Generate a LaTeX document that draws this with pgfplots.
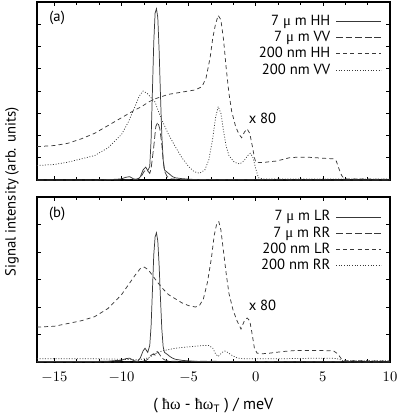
\documentclass[border=0pt]{standalone}
\usepackage{fontspec}
\setmainfont{PT Sans}
\newfontfamily\symf{Liberation Serif}
\usepackage{pgfplots}
\pgfplotsset{compat=1.18}

% 1 px of the reference = 0.75pt
\pgfplotsset{
  panel/.style={
    scale only axis, width=264.75pt,
    xmin=-16.3, xmax=10, ymin=0,
    xtick={-15,-10,...,10}, minor x tick num=2,
    yticklabels={},
    tick align=inside, major tick length=3pt, minor tick length=2.2pt,
    axis line style={line width=0.9pt},
    tick style={line width=0.5pt, black},
    every axis plot/.append style={line width=0.55pt, black!78},
    legend plot pos=right, legend cell align=right,
    legend image code/.code={\draw[##1] (0pt,0pt) -- (34pt,0pt);},
    legend style={draw=none, fill=none, at={(1,1)}, anchor=north east,
      xshift=-3pt, yshift=-6pt, row sep=-1.4pt,
      nodes={inner xsep=4pt, inner ysep=2pt}},
  },
  sld/.style={solid},
  lng/.style={dash pattern=on 5pt off 2.2pt},
  shrt/.style={dash pattern=on 3pt off 2.4pt},
  dts/.style={dash pattern=on 0.7pt off 1.3pt},
}

\begin{document}
\fontsize{11}{13.2}\selectfont
\begin{tikzpicture}
\path[use as bounding box] (0,0) rectangle (299.25pt,-313.5pt);

% ---------------- (a) ----------------
\begin{axis}[panel, at={(27.75pt,-135pt)}, anchor=south west,
  height=133.5pt, ymax=8, ytick={0,1,...,8}, xticklabels={}]

\addplot[sld] coordinates {(-16.3,0) (-12,0) (-11,0.02) (-10.5,0.03) (-10,0.05)
  (-9.7,0.12) (-9.4,0.15) (-9.1,0.05) (-8.8,0.02) (-8.6,0.15) (-8.4,0.45)
  (-8.2,0.58) (-8.05,0.42) (-7.9,0.6) (-7.8,1.8) (-7.7,4.0) (-7.6,6.2)
  (-7.5,7.5) (-7.4,7.7) (-7.3,7.3) (-7.2,5.8) (-7.1,3.8) (-7.0,2.0)
  (-6.9,0.9) (-6.8,0.45) (-6.6,0.35) (-6.4,0.25) (-6.2,0.15) (-6.0,0.1)
  (-5.5,0.06) (-5,0.04) (-4.5,0.02) (-4,0.01) (10,0)};
\addlegendentry{7 {\symf μ} m HH}

\addplot[lng] coordinates {(-16.3,0) (-10,0) (-9,0.02) (-8.6,0.1)
  (-8.3,0.4) (-8.1,0.45) (-7.9,0.3) (-7.8,0.5) (-7.6,1.5) (-7.45,2.4)
  (-7.3,2.6) (-7.15,2.3) (-7.0,1.6) (-6.9,0.9) (-6.8,0.4) (-6.6,0.15)
  (-6.3,0.05) (-5.5,0.02) (10,0)};
\addlegendentry{7 {\symf μ} m VV}

\addplot[shrt] coordinates {(-16.3,1.5) (-15,1.55) (-14,1.65) (-13,1.85)
  (-12,2.1) (-11,2.45) (-10,2.8) (-9,3.15) (-8.5,3.3) (-8,3.5) (-7.5,3.65)
  (-7,3.75) (-6.5,3.85) (-6,3.9) (-5.5,3.95) (-5,4.0) (-4.5,4.05)
  (-4,4.2) (-3.7,4.6) (-3.4,5.5) (-3.2,6.4) (-3.0,7.0) (-2.8,7.4)
  (-2.6,7.2) (-2.4,6.3) (-2.2,5.0) (-2.0,3.9) (-1.8,3.1) (-1.5,2.4)
  (-1.25,2.05) (-1.05,1.9) (-0.85,2.15) (-0.65,2.3) (-0.45,2.1)
  (-0.25,1.5) (-0.1,1.0) (0,0.8) (0.5,0.78) (1,0.82) (1.5,0.85) (2,0.92)
  (2.5,1.0) (3,1.02) (4,1.02) (5,0.98) (5.8,0.95) (6.0,0.85) (6.2,0.5)
  (6.4,0.2) (6.6,0.05) (7,0.05) (10,0.03)};
\addlegendentry{200 nm HH}

\addplot[dts] coordinates {(-16.3,0.65) (-15,0.7) (-14,0.8) (-13,0.95)
  (-12,1.1) (-11,1.45) (-10,2.05) (-9.5,2.6) (-9,3.3) (-8.7,3.75)
  (-8.4,4.0) (-8.1,3.9) (-7.8,3.7) (-7.5,3.5) (-7.2,3.0) (-7,2.7)
  (-6.5,2.05) (-6,1.5) (-5.5,1.0) (-5,0.6) (-4.6,0.38) (-4.2,0.3)
  (-3.8,0.45) (-3.5,0.9) (-3.2,1.9) (-3.0,2.8) (-2.8,3.3) (-2.6,3.0)
  (-2.4,2.2) (-2.2,1.5) (-2.0,1.1) (-1.6,0.8) (-1.2,0.72) (-0.9,0.85)
  (-0.6,1.1) (-0.4,1.2) (-0.2,1.0) (0,0.5) (0.2,0.1) (0.5,0.05) (10,0.05)};
\addlegendentry{200 nm VV}

\node at (axis cs:-14.8,7.3) {(a)};
\node at (axis cs:0.5,2.78) {x 80};
\end{axis}

% ---------------- (b) ----------------
\begin{axis}[panel, at={(27.75pt,-271.5pt)}, anchor=south west,
  height=123.75pt, ymax=6, ytick={0,1,...,6},
  xticklabel style={yshift=-4pt}]

\addplot[sld] coordinates {(-16.3,0.02) (-12,0.02) (-11,0.03) (-10.5,0.05)
  (-10,0.06) (-9.7,0.12) (-9.4,0.14) (-9.1,0.05) (-8.8,0.02) (-8.6,0.15)
  (-8.4,0.4) (-8.25,0.5) (-8.05,0.35) (-7.9,0.6) (-7.8,1.3) (-7.7,2.6)
  (-7.6,3.9) (-7.5,4.55) (-7.4,4.7) (-7.3,4.4) (-7.2,3.5) (-7.1,2.3)
  (-7.0,1.2) (-6.9,0.55) (-6.8,0.35) (-6.6,0.28) (-6.4,0.2) (-6.2,0.14)
  (-6,0.1) (-5.5,0.06) (-5,0.04) (-4.5,0.02) (10,0)};
\addlegendentry{7 {\symf μ} m LR}

\addplot[lng] coordinates {(-16.3,0) (-9,0) (-8.5,0.02) (-8.2,0.05)
  (-8.0,0.12) (-7.8,0.25) (-7.6,0.3) (-7.5,0.25) (-7.35,0.38) (-7.2,0.3)
  (-7.0,0.15) (-6.8,0.08) (-6.5,0.03) (10,0)};
\addlegendentry{7 {\symf μ} m RR}

\addplot[shrt] coordinates {(-16.3,1.27) (-15,1.3) (-14,1.4) (-13,1.5)
  (-12,1.65) (-11,1.95) (-10,2.45) (-9.5,2.8) (-9,3.15) (-8.6,3.4)
  (-8.3,3.45) (-8.0,3.35) (-7.7,3.15) (-7.4,2.95) (-7,2.7) (-6.5,2.45)
  (-6,2.3) (-5.5,2.15) (-5,2.05) (-4.5,2.0) (-4.2,2.05) (-3.9,2.3)
  (-3.6,2.9) (-3.3,3.8) (-3.1,4.6) (-2.9,5.05) (-2.75,5.1) (-2.6,4.8)
  (-2.4,4.0) (-2.2,3.2) (-2.0,2.5) (-1.7,1.9) (-1.4,1.5) (-1.1,1.2)
  (-0.85,1.5) (-0.65,1.6) (-0.45,1.5) (-0.3,1.1) (-0.1,0.5) (0.1,0.32)
  (0.5,0.3) (1,0.32) (2,0.38) (3,0.42) (4,0.42) (5,0.42) (5.8,0.4)
  (6.1,0.3) (6.4,0.1) (6.7,0.05) (10,0.03)};
\addlegendentry{200 nm LR}

\addplot[dts] coordinates {(-16.3,0.12) (-12,0.12) (-10,0.1) (-9,0.08)
  (-8.5,0.1) (-8,0.15) (-7.5,0.3) (-7,0.4) (-6.5,0.45) (-6,0.5) (-5,0.55)
  (-4,0.6) (-3.5,0.6) (-3.2,0.5) (-3.0,0.3) (-2.8,0.2) (-2.5,0.35)
  (-2.3,0.4) (-2.1,0.35) (-1.8,0.25) (-1.4,0.15) (-1,0.12) (0,0.12)
  (2,0.12) (5,0.14) (6,0.13) (6.5,0.05) (10,0.05)};
\addlegendentry{200 nm RR}

\node at (axis cs:-14.8,5.4) {(b)};
\node at (axis cs:0.5,2.07) {x 80};
\end{axis}

\node[rotate=90] at (9pt,-144pt) {Signal intensity (arb. units)};
\node[font=\fontsize{12}{14}\selectfont] at (160pt,-304.5pt)
  {( {\symf ħω} - {\symf ħω}\textsubscript{T} ) / meV};
\end{tikzpicture}
\end{document}
